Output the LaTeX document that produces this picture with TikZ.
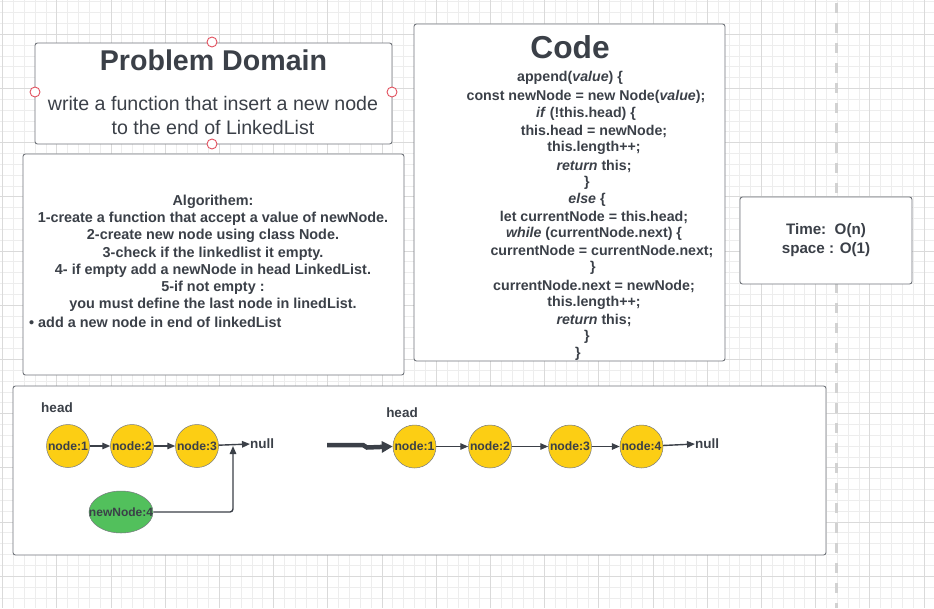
\documentclass[tikz,border=0pt]{standalone}
\usepackage{fontspec}
\setmainfont{Liberation Sans}
\usetikzlibrary{arrows.meta, shapes.geometric}
\definecolor{ink}{RGB}{59,64,72}
\definecolor{boxline}{RGB}{112,116,122}
\definecolor{gridminor}{RGB}{237,237,237}
\definecolor{gridmajor}{RGB}{218,218,218}
\definecolor{handle}{RGB}{226,82,96}
\definecolor{nodeyellow}{RGB}{252,206,20}
\definecolor{nodegreen}{RGB}{82,192,92}

\begin{document}
\begin{tikzpicture}[x=1pt, y=-1pt, font=\bfseries, text=ink]
  \tikzset{
    box/.style={draw=boxline, fill=white, line width=0.9pt, rounded corners=2.5pt},
    hdl/.style={circle, draw=handle, fill=white, line width=0.9pt, inner sep=0pt, minimum size=10pt},
    code/.style={inner sep=0pt, font=\bfseries\fontsize{14.2}{17}\selectfont},
    lnode/.style={circle, draw=ink!70, line width=0.5pt, fill=nodeyellow, inner sep=0pt,
      minimum size=43pt, font=\bfseries\fontsize{12.2}{14}\selectfont},
    link/.style={draw=ink, line width=1.4pt, -{Triangle[length=8pt, width=6.5pt]}},
    lbl/.style={inner sep=0pt, font=\bfseries\fontsize{13.5}{16}\selectfont}
  }
  \useasboundingbox (0,0) rectangle (934,608);
  \fill[white] (0,0) rectangle (934,608);

  % grid
  \foreach \i in {0,...,86}
    \draw[gridminor, line width=0.9pt] ({2.7+\i*10.84},0) -- ({2.7+\i*10.84},608);
  \foreach \i in {-3,...,52}
    \draw[gridminor, line width=0.9pt] (0,{34.3+\i*10.84}) -- (934,{34.3+\i*10.84});
  \foreach \i in {0,...,17}
    \draw[gridmajor, line width=1pt] ({2.7+\i*54.2},0) -- ({2.7+\i*54.2},608);
  \foreach \i in {0,...,10}
    \draw[gridmajor, line width=1pt] (0,{34.3+\i*54.2}) -- (934,{34.3+\i*54.2});
  \draw[gray!35, line width=2.6pt, dash pattern=on 9.5pt off 10.5pt] (836.3,3) -- (836.3,608);

  % Problem Domain
  \draw[box] (35,43) rectangle (392,144);
  \node[inner sep=0pt, font=\bfseries\fontsize{28.6}{32}\selectfont] (pdtitle) at (213.5,60) {Problem Domain};
  \node[inner sep=0pt, align=center, font=\mdseries\fontsize{19.6}{24}\selectfont] (pdtext) at (213,115)
    {write a function that insert a new node\\to the end of LinkedList};
  \node[hdl] (h1) at (212,42) {};
  \node[hdl] (h2) at (212,144) {};
  \node[hdl] (h3) at (35,92) {};
  \node[hdl] (h4) at (392,92) {};

  % Algorithm
  \draw[box] (23,154) rectangle (404,375);
  \node[inner sep=0pt, align=center, font=\bfseries\fontsize{14.4}{17.2}\selectfont] (algo) at (213,253.4)
    {Algorithem:\\
     1-create a function that accept a value of newNode.\\
     2-create new node using class Node.\\
     3-check if the linkedlist it empty.\\
     4- if empty add a newNode in head LinkedList.\\
     5-if not empty :\\
     you must define the last node in linedList.};
  \node[inner sep=0pt, anchor=west, font=\bfseries\fontsize{14.4}{17.2}\selectfont] (bullet) at (29,322.7)
    {\textbullet{} add a new node in end of linkedList};

  % Code
  \draw[box] (414,24) rectangle (725,361);
  \node[inner sep=0pt, font=\bfseries\fontsize{31.7}{36}\selectfont] (codetitle) at (570,47) {Code};
  \node[code] (c1) at (570,78) {append(\textit{value}) \{};
  \node[code] (c2) at (586,97) {const newNode = new Node(\textit{value});};
  \node[code] (c3) at (586,114) {\textit{if} (!this.head) \{};
  \node[code] (c4) at (594,131) {this.head = newNode;};
  \node[code] (c5) at (594,148) {this.length++;};
  \node[code] (c6) at (594,166) {\textit{return} this;};
  \node[code] (c7) at (587,183) {\}};
  \node[code] (c8) at (587,200) {\textit{else} \{};
  \node[code] (c9) at (594,217) {let currentNode = this.head;};
  \node[code] (c10) at (594,234) {\textit{while} (currentNode.next) \{};
  \node[code] (c11) at (602,251) {currentNode = currentNode.next;};
  \node[code] (c12) at (593,268) {\}};
  \node[code] (c13) at (594,286) {currentNode.next = newNode;};
  \node[code] (c14) at (594,303) {this.length++;};
  \node[code] (c15) at (594,320) {\textit{return} this;};
  \node[code] (c16) at (587,337) {\}};
  \node[code] (c17) at (578,354) {\}};

  % Complexity
  \draw[box] (740,197) rectangle (912,284);
  \node[inner sep=0pt, align=center, font=\bfseries\fontsize{15.2}{19}\selectfont] (bigo) at (826,240)
    {Time:\ \ O(n)\\space : O(1)};

  % Linked lists
  \draw[box] (13,386) rectangle (826,555);

  % before
  \node[lbl] (head1) at (57,408) {head};
  \node[lnode] (a1) at (68,446) {\makebox[0pt]{node:1}};
  \node[lnode] (a2) at (132,446) {\makebox[0pt]{node:2}};
  \node[lnode] (a3) at (197,446) {\makebox[0pt]{node:3}};
  \node[lbl, anchor=west] (null1) at (250,444) {null};
  \node[ellipse, draw=ink!70, line width=0.5pt, fill=nodegreen, inner sep=0pt,
    minimum width=64pt, minimum height=42pt, font=\bfseries\fontsize{12}{14}\selectfont] (new4) at (121,512)
    {\makebox[0pt]{newNode:4}};
  \coordinate (join) at (233,446);
  \draw[link] (a1) -- (a2);
  \draw[link] (a2) -- (a3);
  \draw[link] (a3) -- (null1.west);
  \draw[link, rounded corners=3pt] (new4.east) -| (join);

  % after
  \node[lbl] (head2) at (402,413) {head};
  \node[lnode] (b1) at (414.5,446.5) {\makebox[0pt]{node:1}};
  \node[lnode] (b2) at (490,446.5) {\makebox[0pt]{node:2}};
  \node[lnode] (b3) at (570,446.5) {\makebox[0pt]{node:3}};
  \node[lnode] (b4) at (641.5,446.5) {\makebox[0pt]{node:4}};
  \node[lbl, anchor=west] (null2) at (695,444) {null};
  \coordinate (start) at (327,445);
  \draw[draw=ink, line width=4.5pt, -{Triangle[length=11pt, width=11pt]}]
    (start) -- ++(36,0) -- ++(4,2.5) -- (b1.west);
  \draw[link] (b1) -- (b2);
  \draw[link] (b2) -- (b3);
  \draw[link] (b3) -- (b4);
  \draw[link] (b4) -- (null2.west);
\end{tikzpicture}
\end{document}
